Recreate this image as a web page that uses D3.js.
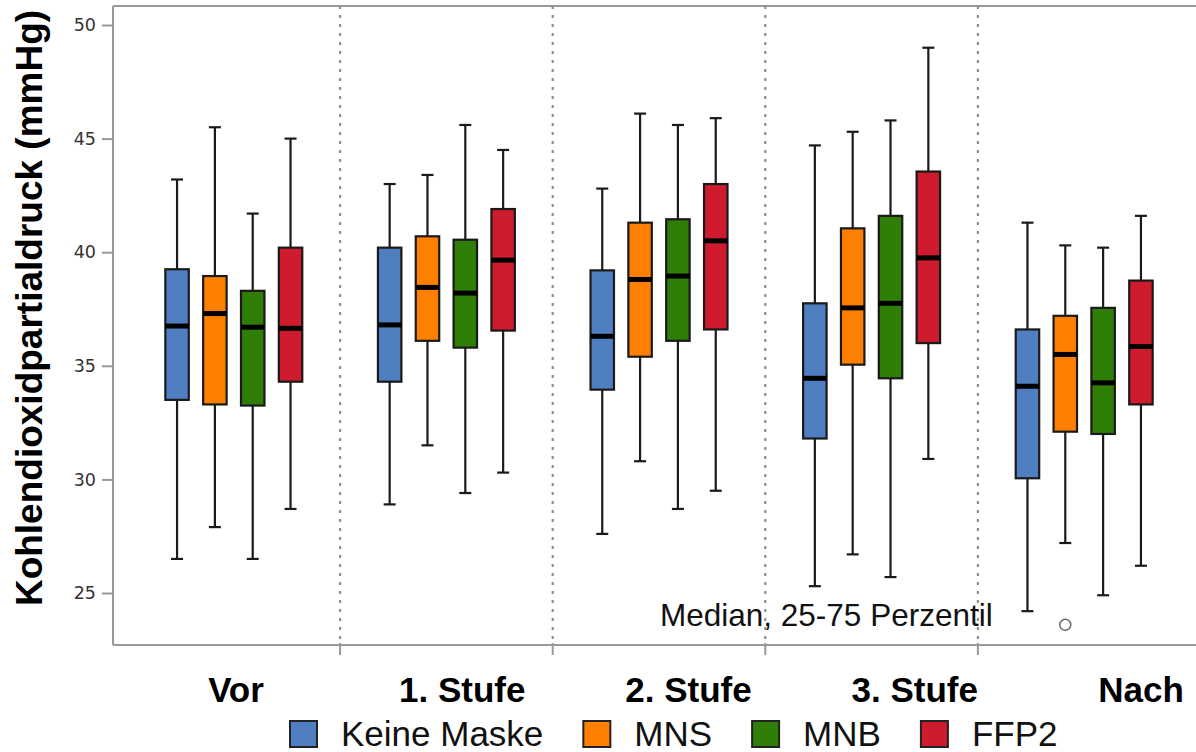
<!DOCTYPE html>
<html>
<head>
<meta charset="utf-8">
<script src="https://cdn.jsdelivr.net/npm/d3@7"></script>
<style>
  body { margin: 0; background: #fff; }
  svg { display: block; }
</style>
</head>
<body>
<svg id="chart"></svg>
<script>
/* Gruppen (Zeitpunkte) und Masken */
const groups = ["Vor", "1. Stufe", "2. Stufe", "3. Stufe", "Nach"];
const masks = ["Keine Maske", "MNS", "MNB", "FFP2"];
const maskColors = ["#4f7fc0", "#ff8000", "#2e7e08", "#ce1b2e"];

/* je Gruppe: [min, q1, median, q3, max] */
const keineMaske = [[26.5, 33.5, 36.75, 39.25, 43.2], [28.9, 34.3, 36.8, 40.2, 43.0], [27.6, 33.95, 36.3, 39.2, 42.8], [25.3, 31.8, 34.45, 37.75, 44.7], [24.2, 30.05, 34.1, 36.6, 41.3]];
const mns = [[27.9, 33.3, 37.3, 38.95, 45.5], [31.5, 36.1, 38.45, 40.7, 43.4], [30.8, 35.4, 38.8, 41.3, 46.1], [26.7, 35.05, 37.55, 41.05, 45.3], [27.2, 32.1, 35.5, 37.2, 40.3]];
const mnb = [[26.5, 33.25, 36.7, 38.3, 41.7], [29.4, 35.8, 38.2, 40.55, 45.6], [28.7, 36.1, 38.95, 41.45, 45.6], [25.7, 34.45, 37.75, 41.6, 45.8], [24.9, 32.0, 34.25, 37.55, 40.2]];
const ffp2 = [[28.7, 34.3, 36.65, 40.2, 45.0], [30.3, 36.55, 39.65, 41.9, 44.5], [29.5, 36.6, 40.5, 43.0, 45.9], [30.9, 36.0, 39.75, 43.55, 49.0], [26.2, 33.3, 35.85, 38.75, 41.6]];
const outliers = [{ group: "Nach", mask: "MNS", value: 23.6 }];

const yTicks = [25, 30, 35, 40, 45, 50];

const seriesStats = [keineMaske, mns, mnb, ffp2];

/* SVG */
let width = 1196;
let height = 752;
let svg = d3.select("#chart")
  .attr("width", width)
  .attr("height", height);

let plot = { left: 113, right: 1196, top: 6, bottom: 645 };

/* Skalen */
let xScale = d3.scaleBand()
  .domain(groups)
  .range([127.5, 1190.5])
  .padding(0);
let xSub = d3.scaleBand()
  .domain(masks)
  .range([0, xScale.bandwidth()])
  .paddingInner(0.38)
  .paddingOuter(1.0);
let yScale = d3.scaleLinear()
  .domain([25, 50])
  .range([593, 25]);
let color = d3.scaleOrdinal().domain(masks).range(maskColors);
// Beschriftungen der Gruppen sitzen im Original etwas versetzt
let labelScale = d3.scalePoint()
  .domain(groups)
  .range([236, 1141]);

/* Rahmen oben */
svg.append("line")
  .attr("x1", plot.left).attr("x2", plot.right)
  .attr("y1", plot.top).attr("y2", plot.top)
  .attr("stroke", "#999").attr("stroke-width", 2);

/* gepunktete Trennlinien */
let dividers = groups.slice(1).map(g => xScale(g));
svg.append("g")
  .selectAll("line")
  .data(dividers)
  .join("line")
  .attr("x1", d => d).attr("x2", d => d)
  .attr("y1", plot.top).attr("y2", plot.bottom)
  .attr("stroke", "#8f8f8f")
  .attr("stroke-width", 2.2)
  .attr("stroke-dasharray", "3,6");

/* y Achse */
let yAxis = svg.append("g")
  .attr("transform", "translate(" + [plot.left, 0].join(",") + ")")
  .call(d3.axisLeft(yScale).tickValues(yTicks).tickSize(11).tickPadding(6).tickSizeOuter(0));
yAxis.select(".domain")
  .attr("d", "M0," + plot.top + "V" + plot.bottom)
  .attr("stroke", "#999").attr("stroke-width", 2);
yAxis.selectAll(".tick line").attr("stroke", "#999").attr("stroke-width", 2);
yAxis.selectAll(".tick text")
  .attr("fill", "#333")
  .style("font-family", "DejaVu Sans")
  .style("font-size", "17.5px");

/* x Achse */
let xAxis = svg.append("g")
  .attr("transform", "translate(" + [0, plot.bottom].join(",") + ")");
xAxis.append("line")
  .attr("x1", plot.left).attr("x2", plot.right)
  .attr("stroke", "#999").attr("stroke-width", 2);
xAxis.selectAll(".xt")
  .data(dividers)
  .join("line")
  .attr("class", "xt")
  .attr("x1", d => d).attr("x2", d => d)
  .attr("y1", -2).attr("y2", 10)
  .attr("stroke", "#999").attr("stroke-width", 2);

svg.append("g")
  .selectAll("text")
  .data(groups)
  .join("text")
  .attr("x", d => labelScale(d))
  .attr("y", 702)
  .attr("text-anchor", "middle")
  .style("font-family", "Liberation Sans, Arial, sans-serif")
  .style("font-weight", "bold")
  .style("font-size", "35px")
  .text(d => d);

/* Boxplots */
let boxes = [];
groups.forEach((g, gi) => {
  masks.forEach((m, mi) => {
    let s = seriesStats[mi][gi];
    boxes.push({ group: g, mask: m, min: s[0], q1: s[1], med: s[2], q3: s[3], max: s[4] });
  });
});

let bw = xSub.bandwidth();
let capW = 12;
let bx = svg.append("g")
  .selectAll("g")
  .data(boxes)
  .join("g")
  .attr("transform", d => "translate(" + (xScale(d.group) + xSub(d.mask) + bw / 2) + ",0)");

bx.append("line")
  .attr("y1", d => yScale(d.max)).attr("y2", d => yScale(d.q3))
  .attr("stroke", "#1a1a1a").attr("stroke-width", 2.2);
bx.append("line")
  .attr("y1", d => yScale(d.q1)).attr("y2", d => yScale(d.min))
  .attr("stroke", "#1a1a1a").attr("stroke-width", 2.2);
bx.append("line")
  .attr("x1", -capW / 2).attr("x2", capW / 2)
  .attr("y1", d => yScale(d.max)).attr("y2", d => yScale(d.max))
  .attr("stroke", "#1a1a1a").attr("stroke-width", 2.2);
bx.append("line")
  .attr("x1", -capW / 2).attr("x2", capW / 2)
  .attr("y1", d => yScale(d.min)).attr("y2", d => yScale(d.min))
  .attr("stroke", "#1a1a1a").attr("stroke-width", 2.2);
bx.append("rect")
  .attr("x", -bw / 2)
  .attr("width", bw)
  .attr("y", d => yScale(d.q3))
  .attr("height", d => yScale(d.q1) - yScale(d.q3))
  .attr("fill", d => color(d.mask))
  .attr("stroke", "#1a1a1a").attr("stroke-width", 2.2);
bx.append("line")
  .attr("x1", -bw / 2).attr("x2", bw / 2)
  .attr("y1", d => yScale(d.med)).attr("y2", d => yScale(d.med))
  .attr("stroke", "#000").attr("stroke-width", 5);

/* Ausreißer */
svg.append("g")
  .selectAll("circle")
  .data(outliers)
  .join("circle")
  .attr("cx", d => xScale(d.group) + xSub(d.mask) + bw / 2)
  .attr("cy", d => yScale(d.value))
  .attr("r", 5.5)
  .attr("fill", "#fff")
  .attr("stroke", "#666")
  .attr("stroke-width", 1.5);

/* Hinweis */
svg.append("text")
  .attr("x", 660).attr("y", 626)
  .style("font-family", "Liberation Sans, Arial, sans-serif")
  .style("font-size", "31.5px")
  .attr("fill", "#111")
  .text("Median, 25-75 Perzentil");

/* y Titel */
svg.append("text")
  .attr("transform", "translate(42," + 308 + ") rotate(-90)")
  .attr("text-anchor", "middle")
  .style("font-family", "Liberation Sans, Arial, sans-serif")
  .style("font-weight", "bold")
  .style("font-size", "37px")
  .attr("fill", "#000")
  .text("Kohlendioxidpartialdruck (mmHg)");

/* Legende */
let legend = svg.append("g").attr("transform", "translate(289,0)");
let lx = 0;
masks.forEach((m, i) => {
  legend.append("rect")
    .attr("x", lx + 1).attr("y", 721)
    .attr("width", 27).attr("height", 26)
    .attr("fill", color(m))
    .attr("stroke", "#222").attr("stroke-width", 2);
  let t = legend.append("text")
    .attr("x", lx + 52).attr("y", 746)
    .style("font-family", "Liberation Sans, Arial, sans-serif")
    .style("font-size", "35px")
    .attr("fill", "#111")
    .text(m);
  lx += 52 + t.node().getComputedTextLength() + 39;
});
</script>
</body>
</html>
